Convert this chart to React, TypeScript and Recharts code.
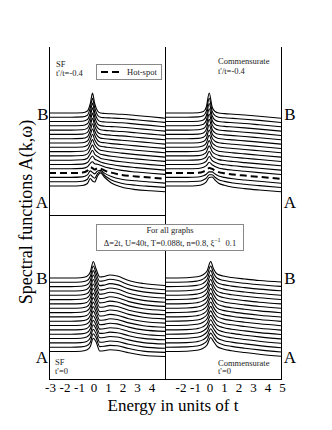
import React from 'react';
import { LineChart, Line, XAxis, YAxis } from 'recharts';

// ---------- axis ticks ----------
const MAJOR_TICKS = [-3, -2, -1, 0, 1, 2, 3, 4, 5];
const MINOR_TICKS = [-2.5, -1.5, -0.5, 0.5, 1.5, 2.5, 3.5, 4.5];
const LEFT_LABEL_TICKS = [-3, -2, -1, 0, 1, 2, 3, 4];
const RIGHT_LABEL_TICKS = [-2, -1, 0, 1, 2, 3, 4, 5];

// vertical offsets of the stacked curves (A at index 0 ... B at index 17)
const TOP_OFFSETS = [29, 33.3, 37.6, 41.9, 46.2, 50.5, 54.8, 59.1, 63.4, 67.7, 72, 76.3, 80.6, 84.9, 89.2, 93.5, 97.8, 102];
const BOTTOM_OFFSETS = [27.5, 31.8, 36.1, 40.5, 44.8, 49.1, 53.5, 57.8, 62.1, 66.4, 70.7, 75.1, 79.4, 83.7, 88, 92.4, 96.7, 101];
const HOT_SPOT_INDEX = 3;

// ---------- SF, t'/t = -0.4 (top left) ----------
const SF_TNEG_ENERGY = [-3, -1.5, -0.7, -0.35, -0.15, 0, 0.15, 0.35, 0.55, 0.85, 1.3, 2, 3, 4, 5];
const SF_TNEG_CURVES = [
  [0, 0, 0.5, 2.5, 7.5, 5, 4, 10, 13, 8.5, 3, -1, -3.6, -4.8, -5.8],
  [0, 0, 0.5, 2.5, 7, 5, 3.5, 8, 10, 6, 1.8, -1.5, -3.5, -4.7, -5.7],
  [0, 0, 0.5, 2.5, 6.5, 5, 3.5, 6.5, 7, 4, 1, -1.8, -3.4, -4.6, -5.7],
  [0, 0, 0.5, 2.5, 6, 5, 3.5, 5, 4.5, 2.5, 0.5, -1.8, -3.3, -4.5, -5.6],
  [0, 0, 0.4, 2, 5.5, 7, 5, 4.5, 3.5, 1.8, 0.3, -1.6, -3.2, -4.5, -5.6],
  [0, 0, 0.4, 2, 6, 8.5, 5.5, 4, 2.5, 1.2, 0, -1.6, -3.1, -4.4, -5.6],
  [0, 0, 0.4, 2, 6.5, 10, 6, 3.8, 2, 1, -0.2, -1.6, -3.1, -4.4, -5.5],
  [0, 0, 0.4, 2, 7, 11, 6.5, 3.5, 1.6, 0.8, -0.3, -1.6, -3, -4.3, -5.5],
  [0, 0, 0.3, 2, 7.5, 12, 7, 3.2, 1.3, 0.6, -0.4, -1.5, -3, -4.3, -5.5],
  [0, 0, 0.3, 2, 7.5, 13, 7.5, 3, 1, 0.4, -0.5, -1.5, -2.9, -4.2, -5.5],
  [0, 0, 0.3, 2, 8, 14, 8, 2.7, 0.8, 0.2, -0.6, -1.5, -2.9, -4.2, -5.4],
  [0, 0, 0.3, 2, 8, 15, 8, 2.5, 0.6, 0, -0.7, -1.5, -2.8, -4.1, -5.4],
  [0, 0, 0.3, 2, 8.5, 16, 8.5, 2.3, 0.4, -0.2, -0.8, -1.5, -2.8, -4.1, -5.4],
  [0, 0, 0.3, 2, 8.5, 17, 8.5, 2.2, 0.3, -0.3, -0.8, -1.4, -2.7, -4, -5.3],
  [0, 0, 0.3, 2, 9, 18, 9, 2, 0.2, -0.4, -0.8, -1.4, -2.7, -4, -5.3],
  [0, 0, 0.3, 2, 9, 18.5, 9, 2, 0, -0.5, -0.8, -1.3, -2.6, -3.9, -5.3],
  [0, 0, 0.3, 2, 9.5, 19, 9.5, 2, 0, -0.5, -0.8, -1.3, -2.6, -3.9, -5.2],
  [0, 0, 0.3, 2, 9.5, 20, 9.5, 2, 0, -0.5, -0.8, -1.2, -2.5, -3.8, -5.2],
];

// ---------- Commensurate, t'/t = -0.4 (top right) ----------
const COM_TNEG_ENERGY = [-3, -1.5, -0.7, -0.35, -0.15, 0.05, 0.25, 0.45, 0.7, 1.1, 1.7, 2.5, 3.5, 5];
const COM_TNEG_CURVES = [
  [0, 0, 0.5, 2, 4.2, 8.5, 9, 6, 2.8, 0.7, -1.2, -2.6, -4, -5.8],
  [0, 0, 0.4, 1.8, 3.6, 7, 7, 4.5, 2, 0.3, -1.3, -2.6, -3.9, -5.8],
  [0, 0, 0.4, 1.6, 3.2, 5.5, 5.5, 3.5, 1.4, 0, -1.4, -2.6, -3.9, -5.8],
  [0, 0, 0.3, 1.5, 3, 5, 4.2, 2.6, 1, -0.2, -1.4, -2.5, -3.8, -5.7],
  [0, 0, 0.3, 1.5, 3.2, 6.5, 4, 2.3, 0.8, -0.3, -1.4, -2.5, -3.8, -5.7],
  [0, 0, 0.3, 1.5, 3.4, 8, 4, 2.2, 0.7, -0.3, -1.3, -2.4, -3.7, -5.6],
  [0, 0, 0.3, 1.5, 3.6, 9, 4.2, 2.1, 0.6, -0.3, -1.3, -2.4, -3.7, -5.6],
  [0, 0, 0.3, 1.5, 3.8, 10, 4.4, 2, 0.5, -0.4, -1.3, -2.3, -3.6, -5.6],
  [0, 0, 0.3, 1.5, 4, 11, 4.6, 2, 0.4, -0.4, -1.3, -2.3, -3.6, -5.5],
  [0, 0, 0.3, 1.5, 4.3, 12, 4.8, 1.9, 0.3, -0.4, -1.2, -2.2, -3.5, -5.5],
  [0, 0, 0.3, 1.5, 4.5, 13, 5, 1.8, 0.2, -0.5, -1.2, -2.2, -3.5, -5.5],
  [0, 0, 0.3, 1.5, 4.8, 14, 5, 1.7, 0.2, -0.5, -1.2, -2.2, -3.4, -5.4],
  [0, 0, 0.3, 1.5, 5, 15, 5.2, 1.6, 0.1, -0.5, -1.2, -2.1, -3.4, -5.4],
  [0, 0, 0.3, 1.5, 5.2, 16, 5.5, 1.6, 0.1, -0.5, -1.2, -2.1, -3.3, -5.4],
  [0, 0, 0.3, 1.5, 5.5, 17, 5.5, 1.5, 0, -0.6, -1.2, -2.1, -3.3, -5.3],
  [0, 0, 0.3, 1.5, 5.8, 18, 5.8, 1.5, 0, -0.6, -1.2, -2, -3.3, -5.3],
  [0, 0, 0.3, 1.5, 6, 19, 6, 1.5, 0, -0.6, -1.2, -2, -3.2, -5.3],
  [0, 0, 0.3, 1.5, 6, 20, 6, 1.5, 0, -0.6, -1.2, -2, -3.2, -5.3],
];

// ---------- SF, t' = 0 (bottom left) ----------
const SF_T0_ENERGY = [-3, -1.5, -0.8, -0.4, -0.15, 0.05, 0.25, 0.5, 0.8, 1.2, 1.7, 2.5, 3.5, 5];
const SF_T0_CURVES = [
  [0, 0, 0.3, 1.5, 5, 13.2, 9.5, 0.5, 0.8, 1.7, 1.3, -1.2, -3.8, -5],
  [0, 0, 0.3, 1.5, 5, 13.4, 9.4, 0.6, 0.9, 1.8, 1.4, -1.3, -3.9, -5.2],
  [0, 0, 0.3, 1.5, 5.2, 13.6, 9.2, 0.7, 0.9, 1.9, 1.4, -1.4, -4, -5.4],
  [0, 0, 0.3, 1.5, 5.2, 13.8, 9.2, 0.7, 1, 2, 1.5, -1.4, -4.1, -5.5],
  [0, 0, 0.3, 1.5, 5.4, 14, 9, 0.8, 1, 2.1, 1.5, -1.5, -4.2, -5.6],
  [0, 0, 0.3, 1.5, 5.4, 14.2, 9, 0.8, 1.1, 2.2, 1.6, -1.6, -4.3, -5.8],
  [0, 0, 0.3, 1.5, 5.6, 14.4, 9, 0.8, 1.1, 2.3, 1.6, -1.6, -4.4, -5.9],
  [0, 0, 0.3, 1.5, 5.6, 14.6, 9, 0.9, 1.2, 2.4, 1.7, -1.7, -4.5, -6],
  [0, 0, 0.3, 1.5, 5.8, 14.8, 9, 0.9, 1.2, 2.5, 1.7, -1.8, -4.6, -6.2],
  [0, 0, 0.3, 1.5, 5.8, 15, 9, 0.9, 1.3, 2.6, 1.8, -1.8, -4.7, -6.3],
  [0, 0, 0.3, 1.5, 6, 15.2, 9, 1, 1.3, 2.7, 1.8, -1.9, -4.8, -6.5],
  [0, 0, 0.3, 1.5, 6, 15.4, 9, 1, 1.4, 2.8, 1.9, -2, -4.9, -6.6],
  [0, 0, 0.3, 1.5, 6, 15.6, 9, 1, 1.4, 2.9, 1.9, -2, -5, -6.8],
  [0, 0, 0.3, 1.5, 6, 15.8, 9, 1, 1.5, 3, 2, -2.1, -5.1, -6.9],
  [0, 0, 0.3, 1.5, 6, 16, 9, 1, 1.5, 3, 2, -2.2, -5.2, -7],
  [0, 0, 0.3, 1.5, 6, 16, 9, 1, 1.5, 3, 2, -2.3, -5.3, -7.2],
  [0, 0, 0.3, 1.5, 6, 16.3, 9, 1, 1.5, 3, 2, -2.4, -5.4, -7.4],
  [0, 0, 0.3, 1.5, 6, 16.5, 9, 1, 1.5, 3, 2, -2.5, -5.5, -7.5],
];

// ---------- Commensurate, t' = 0 (bottom right) ----------
const COM_T0_ENERGY = [-3, -1.5, -0.8, -0.4, -0.1, 0.15, 0.35, 0.6, 1, 1.6, 2.5, 3.5, 5];
const COM_T0_CURVES = [
  [0, 0.3, 1.2, 3, 6.5, 14, 10, 5, 2.5, 0.8, -1, -2.7, -4.8],
  [0, 0.3, 1.2, 3, 6.5, 14.1, 9.9, 5, 2.5, 0.8, -1, -2.7, -4.8],
  [0, 0.3, 1.2, 3, 6.5, 14.2, 9.9, 4.9, 2.5, 0.8, -1, -2.7, -4.8],
  [0, 0.3, 1.2, 3, 6.6, 14.3, 9.8, 4.8, 2.4, 0.8, -1, -2.7, -4.7],
  [0, 0.3, 1.2, 3, 6.6, 14.4, 9.8, 4.8, 2.4, 0.8, -1, -2.7, -4.7],
  [0, 0.3, 1.2, 3, 6.6, 14.5, 9.7, 4.7, 2.4, 0.7, -1, -2.7, -4.6],
  [0, 0.3, 1.2, 3, 6.7, 14.6, 9.6, 4.6, 2.3, 0.7, -1, -2.7, -4.6],
  [0, 0.3, 1.2, 3, 6.7, 14.8, 9.6, 4.6, 2.3, 0.7, -1, -2.6, -4.5],
  [0, 0.3, 1.2, 3, 6.7, 14.9, 9.5, 4.5, 2.3, 0.7, -1, -2.6, -4.5],
  [0, 0.3, 1.2, 3, 6.8, 15, 9.5, 4.5, 2.2, 0.7, -1, -2.6, -4.4],
  [0, 0.3, 1.2, 3, 6.8, 15.2, 9.4, 4.4, 2.2, 0.6, -1, -2.6, -4.4],
  [0, 0.3, 1.2, 3, 6.8, 15.4, 9.4, 4.3, 2.2, 0.6, -1, -2.6, -4.3],
  [0, 0.3, 1.2, 3, 6.9, 15.6, 9.3, 4.3, 2.1, 0.6, -1, -2.6, -4.3],
  [0, 0.3, 1.2, 3, 6.9, 15.8, 9.2, 4.2, 2.1, 0.6, -1, -2.5, -4.2],
  [0, 0.3, 1.2, 3, 7, 16, 9.2, 4.1, 2.1, 0.5, -1, -2.5, -4.2],
  [0, 0.3, 1.2, 3, 7, 16.1, 9.1, 4.1, 2, 0.5, -1, -2.5, -4.1],
  [0, 0.3, 1.2, 3, 7, 16.3, 9, 4, 2, 0.5, -1, -2.5, -4.1],
  [0, 0.3, 1.2, 3, 7, 16.5, 9, 4, 2, 0.5, -1, -2.5, -4],
];

const SERIF = 'Liberation Serif, Times New Roman, serif';

function buildRows(xs: number[], curves: number[][], offsets: number[]) {
  return xs.map((x, j) => {
    const row: Record<string, number> = { x };
    curves.forEach((c, i) => {
      row['c' + i] = offsets[i] + c[j];
    });
    return row;
  });
}

const EnergyTick = (props: any) => {
  const { x, y, payload } = props;
  return (
    <text x={x + 1.5} y={y} dy={9} textAnchor="middle" style={{ fontFamily: SERIF, fontSize: 13 }} fill="#000">
      {payload.value}
    </text>
  );
};

type PanelProps = {
  left: number;
  top: number;
  plotHeight: number;
  xs: number[];
  curves: number[][];
  offsets: number[];
  dashedIndex?: number;
  labelTicks?: number[];
};

function Panel({ left, top, plotHeight, xs, curves, offsets, dashedIndex, labelTicks }: PanelProps) {
  const rows = buildRows(xs, curves, offsets);
  const axisH = labelTicks ? 30 : 0;
  const width = 116;
  return (
    <div style={{ position: 'absolute', left, top, width, height: plotHeight + axisH }}>
      <LineChart width={width} height={plotHeight + axisH} data={rows} margin={{ top: 0, right: 0, bottom: 0, left: 0 }}>
        <XAxis xAxisId="tMaj" orientation="top" mirror height={0} type="number" domain={[-3, 5]} ticks={MAJOR_TICKS} interval={0} tick={false} axisLine={false} tickSize={5} stroke="#222" />
        <XAxis xAxisId="tMin" orientation="top" mirror height={0} type="number" domain={[-3, 5]} ticks={MINOR_TICKS} interval={0} tick={false} axisLine={false} tickSize={3} stroke="#222" />
        <XAxis xAxisId="bMaj" orientation="bottom" mirror height={0} type="number" domain={[-3, 5]} ticks={MAJOR_TICKS} interval={0} tick={false} axisLine={false} tickSize={5} stroke="#222" />
        <XAxis xAxisId="bMin" orientation="bottom" mirror height={0} type="number" domain={[-3, 5]} ticks={MINOR_TICKS} interval={0} tick={false} axisLine={false} tickSize={3} stroke="#222" />
        {labelTicks ? (
          <XAxis xAxisId="main" dataKey="x" type="number" domain={[-3, 5]} ticks={labelTicks} interval={0} height={30} tickLine={false} axisLine={false} tickSize={4} tickMargin={0} tick={<EnergyTick />} />
        ) : (
          <XAxis xAxisId="main" dataKey="x" type="number" domain={[-3, 5]} hide />
        )}
        <YAxis yAxisId="y" type="number" domain={[0, plotHeight]} hide />
        {curves.map((_, i) => (
          <Line
            key={i}
            xAxisId="main"
            yAxisId="y"
            dataKey={'c' + i}
            type="monotone"
            stroke="#000"
            strokeWidth={i === dashedIndex ? 2 : 1.1}
            strokeDasharray={i === dashedIndex ? '7 4' : undefined}
            dot={false}
            activeDot={false}
            isAnimationActive={false}
          />
        ))}
      </LineChart>
    </div>
  );
}

export default function App() {
  const small = { style: { fontFamily: SERIF, fontSize: 8.5 }, fill: '#222' } as const;
  const big = { style: { fontFamily: SERIF, fontSize: 17 }, fill: '#000' } as const;
  return (
    <div style={{ position: 'absolute', left: 0, top: 0, width: 332, height: 430, background: '#fff', overflow: 'hidden' }}>
      <style>{'.recharts-surface{overflow:visible}'}</style>
      <Panel left={49} top={47} plotHeight={168} xs={SF_TNEG_ENERGY} curves={SF_TNEG_CURVES} offsets={TOP_OFFSETS} dashedIndex={HOT_SPOT_INDEX} />
      <Panel left={165} top={47} plotHeight={168} xs={COM_TNEG_ENERGY} curves={COM_TNEG_CURVES} offsets={TOP_OFFSETS} dashedIndex={HOT_SPOT_INDEX} />
      <Panel left={49} top={215} plotHeight={164} xs={SF_T0_ENERGY} curves={SF_T0_CURVES} offsets={BOTTOM_OFFSETS} labelTicks={LEFT_LABEL_TICKS} />
      <Panel left={165} top={215} plotHeight={164} xs={COM_T0_ENERGY} curves={COM_T0_CURVES} offsets={BOTTOM_OFFSETS} labelTicks={RIGHT_LABEL_TICKS} />
      <svg width={332} height={430} style={{ position: 'absolute', left: 0, top: 0, pointerEvents: 'none' }}>
        {/* frame */}
        <g stroke="#000" strokeWidth={1}>
          <line x1={49.5} y1={47} x2={49.5} y2={380} />
          <line x1={165.5} y1={47} x2={165.5} y2={380} />
          <line x1={281.5} y1={47} x2={281.5} y2={380} />
          <line x1={49} y1={215.5} x2={166} y2={215.5} />
          <line x1={49} y1={379.5} x2={282} y2={379.5} />
        </g>
        {/* panel letters */}
        <text x={43} y={119.5} textAnchor="middle" {...big}>B</text>
        <text x={42} y={208} textAnchor="middle" {...big}>A</text>
        <text x={290} y={119.5} textAnchor="middle" {...big}>B</text>
        <text x={290} y={208} textAnchor="middle" {...big}>A</text>
        <text x={42} y={283.5} textAnchor="middle" {...big}>B</text>
        <text x={42} y={363} textAnchor="middle" {...big}>A</text>
        <text x={290} y={283.5} textAnchor="middle" {...big}>B</text>
        <text x={290} y={363} textAnchor="middle" {...big}>A</text>
        {/* panel captions */}
        <text x={56} y={67} {...small}>SF</text>
        <text x={56} y={75.5} {...small}>t'/t=-0.4</text>
        <text x={218} y={64} {...small}>Commensurate</text>
        <text x={218} y={73.5} {...small}>t'/t=-0.4</text>
        <text x={55} y={365} {...small}>SF</text>
        <text x={55} y={374} {...small}>t'=0</text>
        <text x={218} y={365.5} {...small}>Commensurate</text>
        <text x={218} y={374} {...small}>t'=0</text>
        {/* hot-spot legend */}
        <rect x={96.5} y={64.5} width={65} height={15} fill="#fff" stroke="#888" />
        <line x1={101} y1={72} x2={121} y2={72} stroke="#000" strokeWidth={2} strokeDasharray="7 4" />
        <text x={127} y={75} {...small}>Hot-spot</text>
        {/* parameters box */}
        <rect x={96.5} y={224.5} width={147} height={26} fill="#fff" stroke="#888" />
        <text x={170} y={233} textAnchor="middle" {...small}>For all graphs</text>
        <text x={170} y={245.5} textAnchor="middle" {...small}>
          <tspan>Δ=2t, U=40t, T=0.088t, n=0.8, ξ</tspan>
          <tspan dy={-3.5} style={{ fontSize: 6 }}>−1</tspan>
          <tspan dy={3.5} dx={5}>0.1</tspan>
        </text>
        {/* axis titles */}
        <text transform="translate(31.5,212) rotate(-90)" textAnchor="middle" style={{ fontFamily: SERIF, fontSize: 18 }} fill="#000">
          Spectral functions A(k,ω)
        </text>
        <text x={173} y={411} textAnchor="middle" style={{ fontFamily: SERIF, fontSize: 17 }} fill="#000">
          Energy in units of t
        </text>
      </svg>
    </div>
  );
}
